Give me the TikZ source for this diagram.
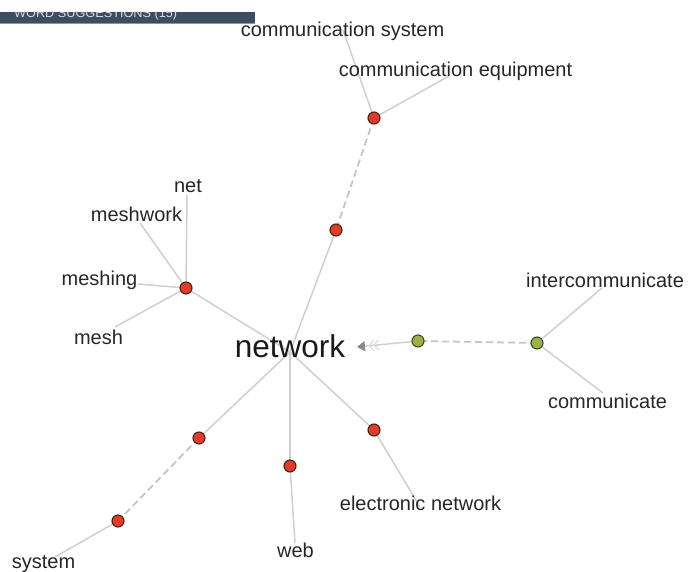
\documentclass[tikz,border=0pt]{standalone}
\usepackage{fontspec}
\setmainfont{Liberation Sans}
\usetikzlibrary{arrows.meta,calc}
\definecolor{edgec}{HTML}{CFCFCF}
\definecolor{dashc}{HTML}{C4C4C4}
\definecolor{dotred}{HTML}{E03C28}
\definecolor{dotredb}{HTML}{4A2018}
\definecolor{dotgreen}{HTML}{9CB04A}
\definecolor{dotgreenb}{HTML}{3E4A1E}
\definecolor{banner}{HTML}{3C4E60}
\definecolor{bannertext}{HTML}{D4DCE4}
\definecolor{arrowc}{HTML}{8A8A8A}
\begin{document}
\begin{tikzpicture}[x=1pt,y=-1pt,
  lbl/.style={font=\fontsize{20}{20}\selectfont, text=black!85, inner sep=0pt, anchor=base},
  hub/.style={font=\fontsize{31.5}{32}\selectfont, text=black!90, inner sep=0pt, anchor=base},
  rdot/.style={circle, fill=dotred, draw=dotredb, line width=1.1pt, minimum size=12pt, inner sep=0pt},
  gdot/.style={circle, fill=dotgreen, draw=dotgreenb, line width=1.1pt, minimum size=12pt, inner sep=0pt},
  edgeline/.style={draw=edgec, line width=1.5pt},
  dashedge/.style={draw=dashc, line width=1.8pt, dash pattern=on 7pt off 4pt},
  ghost/.style={draw=edgec!70, line width=1.3pt}]
\useasboundingbox (0,0) rectangle (688,572);

% banner
\fill[banner] (0,12) rectangle (255,24);
\draw[banner!60, line width=1pt] (0,23.5) -- (255,23.5);
\begin{scope}
  \clip (0,12) rectangle (255,22.8);
  \node[font=\fontsize{12.7}{13}\selectfont, text=bannertext, inner sep=0pt, anchor=base west] (bannerlbl) at (14,18) {WORD SUGGESTIONS (15)};
\end{scope}

% anchor coordinates
\coordinate (hubc) at (290,352);
\coordinate (e-cs) at (343,30);
\coordinate (e-ce) at (449,76);
\coordinate (e-net) at (187,195);
\coordinate (e-mw) at (140,223);
\coordinate (e-mg) at (138,284);
\coordinate (e-ms) at (115,327);
\coordinate (e-sys) at (55,557);
\coordinate (e-web) at (295,543);
\coordinate (e-en) at (420,507);
\coordinate (e-ic) at (602,288);
\coordinate (e-cm) at (603,393);
\coordinate (tip) at (357,347);

% dots (positions)
\path (374,118) coordinate (p1) (336,230) coordinate (p2) (186,288) coordinate (p3)
      (199,438) coordinate (p4) (118,521) coordinate (p5) (290,466) coordinate (p6)
      (374,430) coordinate (p7) (418,341) coordinate (g1) (537,343) coordinate (g2);

% edges
\draw[edgeline] (p1) -- (e-cs);
\draw[edgeline] (p1) -- (e-ce);
\draw[dashedge] (p1) -- (p2);
\draw[edgeline] (p2) -- (hubc);
\draw[edgeline] (p3) -- (hubc);
\draw[edgeline] (p3) -- (e-net);
\draw[edgeline] (p3) -- (e-mw);
\draw[edgeline] (p3) -- (e-mg);
\draw[edgeline] (p3) -- (e-ms);
\draw[edgeline] (p4) -- (hubc);
\draw[dashedge] (p4) -- (p5);
\draw[edgeline] (p5) -- (e-sys);
\draw[edgeline] (p6) -- (hubc);
\draw[edgeline] (p6) -- (e-web);
\draw[edgeline] (p7) -- (hubc);
\draw[edgeline] (p7) -- (e-en);
\draw[dashedge] (g2) -- (g1);
\draw[edgeline] (g2) -- (e-ic);
\draw[edgeline] (g2) -- (e-cm);
\draw[edgeline, -{Triangle[length=8pt,width=10pt,fill=arrowc,color=arrowc]}] (g1) -- (tip);
\coordinate (ch1) at ($(tip)!11pt!(g1)$);
\coordinate (ch2) at ($(tip)!16pt!(g1)$);
\draw[ghost, -{Straight Barb[length=5pt,width=10pt]}] ($(ch1)!1pt!(g1)$) -- (ch1);
\draw[ghost, -{Straight Barb[length=5pt,width=10pt]}] ($(ch2)!1pt!(g1)$) -- (ch2);

% dots
\node[rdot] (d1) at (p1) {};
\node[rdot] (d2) at (p2) {};
\node[rdot] (d3) at (p3) {};
\node[rdot] (d4) at (p4) {};
\node[rdot] (d5) at (p5) {};
\node[rdot] (d6) at (p6) {};
\node[rdot] (d7) at (p7) {};
\node[gdot] (dg1) at (g1) {};
\node[gdot] (dg2) at (g2) {};

% labels
\node[hub] (network) at (290,357) {network};
\node[lbl] (cs) at (342.5,37) {communication system};
\node[lbl] (ce) at (455.5,77) {communication equipment};
\node[lbl] (net) at (188,193) {net};
\node[lbl] (mw) at (136.5,222) {meshwork};
\node[lbl] (mg) at (99.5,285) {meshing};
\node[lbl] (ms) at (98.5,344) {mesh};
\node[lbl] (ic) at (605,287) {intercommunicate};
\node[lbl] (cm) at (607.5,408) {communicate};
\node[lbl] (en) at (420.5,510) {electronic network};
\node[lbl] (web) at (295.5,557) {web};
\node[lbl] (sys) at (43.5,568) {system};
\end{tikzpicture}
\end{document}
